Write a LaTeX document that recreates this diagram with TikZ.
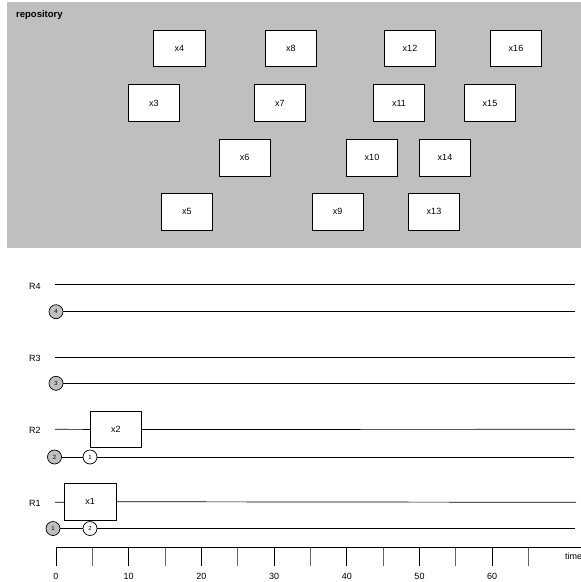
\documentclass[tikz,border=0pt]{standalone}
\usepackage{fontspec}
\setmainfont{Liberation Sans}
\usepackage{tikz}
\usetikzlibrary{positioning, calc}

\begin{document}
\begin{tikzpicture}[
  x=1pt, y=-1pt,
  font=\fontsize{9}{10}\selectfont,
  task/.style={draw, fill=white, line width=0.7pt, minimum width=51.5pt,
               minimum height=36.6pt, inner sep=0pt},
  res/.style={line width=0.7pt},
  token/.style={circle, draw, line width=0.7pt, minimum size=14pt, inner sep=0pt,
                font=\fontsize{6}{7}\selectfont},
  held/.style={token, fill=black!25},
  free/.style={token, fill=white},
  tick/.style={line width=0.8pt}
]
\useasboundingbox (0,0) rectangle (581,582);

% repository
\fill[black!25] (7,2) rectangle (581,248);
\node[anchor=base west, inner sep=0pt, font=\fontsize{9.5}{10}\selectfont\bfseries] (repo) at (16,17) {repository};
\node[task] (x4)  at (179.5,48.5) {x4};
\node[task] (x8)  at (291,48.5)   {x8};
\node[task] (x12) at (410,48.5)   {x12};
\node[task] (x16) at (516,48.5)   {x16};
\node[task] (x3)  at (154,103)    {x3};
\node[task] (x7)  at (280,103)    {x7};
\node[task] (x11) at (399,103)    {x11};
\node[task] (x15) at (490,103)    {x15};
\node[task] (x6)  at (244.7,157.7) {x6};
\node[task] (x10) at (372,157.7)  {x10};
\node[task] (x14) at (445,157.7)  {x14};
\node[task] (x5)  at (187,211.7)  {x5};
\node[task] (x9)  at (337.7,211.7) {x9};
\node[task] (x13) at (434,211.7)  {x13};

% resources
\node (R4) at (35,286) {R4};
\node (R3) at (35,358) {R3};
\node (R2) at (35,430.5) {R2};
\node (R1) at (35,503) {R1};

\coordinate (r4s) at (55,284);    \coordinate (r4e) at (575,284);
\coordinate (r3s) at (55,357.3);  \coordinate (r3e) at (575,357.3);
\coordinate (r2s) at (55,429.3);  \coordinate (r2e) at (575,429.3);
\coordinate (r1s) at (55,502.3);  \coordinate (r1e) at (576,502.3);
\coordinate (q4e) at (575,311.7);
\coordinate (q3e) at (575,383.3);
\coordinate (q2e) at (574,457);
\coordinate (q1e) at (575,528.5);

\node[task] (x2) at (116,429.5) {x2};
\node[task] (x1) at (90.2,501.7) {x1};

\node[held] (h4) at (56,311.7) {4};
\node[held] (h3) at (56,383.3) {3};
\node[held] (h2) at (54.5,457) {2};
\node[free] (f1) at (90,457) {1};
\node[held] (h1) at (53,528.5) {1};
\node[free] (f2) at (90,528.5) {2};

\draw[res] (r4s) -- (r4e);
\draw[res] (h4) -- (q4e);
\draw[res] (r3s) -- (r3e);
\draw[res] (h3) -- (q3e);
\draw[res] (r2s) -- (x2);
\draw[res] (x2) -- (r2e);
\draw[res] (h2) -- (f1);
\draw[res] (f1) -- (q2e);
\draw[res] (r1s) -- (x1);
\draw[res] (x1) -- (r1e);
\draw[res] (h1) -- (f2);
\draw[res] (f2) -- (q1e);

% time axis
\coordinate (t0) at (56,547.7);
\coordinate (tend) at (581,547.7);
\draw[tick] (t0) -- (tend);
\foreach \t in {0,10,...,60}
  \draw[tick] ($(t0)+(7.27*\t,0)$) -- ++(0,18);
\foreach \t in {5,15,...,65}
  \draw[tick, black!60] ($(t0)+(7.27*\t,0)$) -- ++(0,18);
\foreach \t in {0,10,...,60}
  \node (l\t) at ($(t0)+(7.27*\t,29)$) {\t};
\node[anchor=base west, inner sep=0pt] (time) at (565,559) {time};
\end{tikzpicture}
\end{document}
